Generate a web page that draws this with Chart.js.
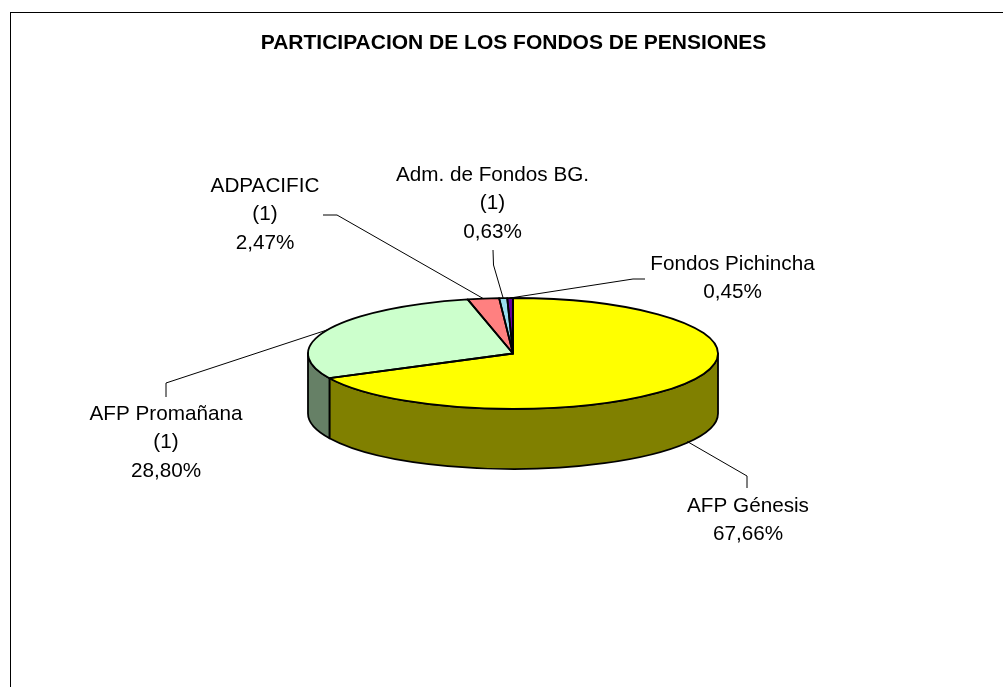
<!DOCTYPE html>
<html>
<head>
<meta charset="utf-8">
<script src="https://cdn.jsdelivr.net/npm/chart.js@4/dist/chart.umd.min.js"></script>
<style>
  html, body { margin: 0; padding: 0; background: #ffffff; }
  #wrap { width: 1003px; height: 687px; position: relative; }
</style>
</head>
<body>
<div id="wrap"><canvas id="c" width="1003" height="687"></canvas></div>
<script>
// ---- data ----
const chartTitle = 'PARTICIPACION DE LOS FONDOS DE PENSIONES';
const categories = ['AFP Génesis', 'AFP Promañana', 'ADPACIFIC', 'Adm. de Fondos BG.', 'Fondos Pichincha'];
const shares = [67.66, 28.80, 2.47, 0.63, 0.45];
const notes = ['', '(1)', '(1)', '(1)', ''];
const topColors = ['#FFFF00', '#CCFFCC', '#FF8080', '#99DDEE', '#660099'];
const sideColors = ['#808000', '#668066', '#804040', '#4C6E77', '#33004C'];

// ---- layout (label placement, not data) ----
const labelLayout = [
  { cx: 748, y0: 506, leader: [[747, 488], [747, 476]] },
  { cx: 166, y0: 414, leader: [[166, 397], [166, 383]] },
  { cx: 265, y0: 186, leader: [[323, 215], [337, 215]] },
  { cx: 492.5, y0: 175, leader: [[493, 250], [493.5, 265]] },
  { cx: 732.5, y0: 264, leader: [[645, 279], [633, 279]] }
];
const TILT = 0.2707;   // vertical squash of the pie
const DEPTH = 60;      // thickness of the pie
const LINE_H = 28.5;

function fmtPct(v) { return v.toFixed(2).replace('.', ',') + '%'; }

function geom(chart) {
  const meta = chart.getDatasetMeta(0);
  const arcs = meta.data;
  const a0 = arcs[0];
  const cx = a0.x, cy = a0.y, rx = a0.outerRadius, ry = rx * TILT;
  return { arcs, cx, cy, rx, ry };
}

const pie3d = {
  id: 'pie3d',
  beforeDatasetsDraw(chart) {
    const ctx = chart.ctx;
    const { arcs, cx, cy, rx, ry } = geom(chart);
    // side walls (front half: canvas angles 0..PI)
    ctx.save();
    ctx.lineWidth = 1.8;
    ctx.strokeStyle = '#000';
    ctx.lineJoin = 'round';
    arcs.forEach((el, i) => {
      const s = el.startAngle, e = el.endAngle;
      const lo = Math.max(s, 0), hi = Math.min(e, Math.PI);
      if (hi <= lo) return;
      ctx.beginPath();
      ctx.ellipse(cx, cy, rx, ry, 0, lo, hi, false);
      ctx.lineTo(cx + rx * Math.cos(hi), cy + DEPTH + ry * Math.sin(hi));
      ctx.ellipse(cx, cy + DEPTH, rx, ry, 0, hi, lo, true);
      ctx.closePath();
      ctx.fillStyle = sideColors[i];
      ctx.fill();
      ctx.stroke();
    });
    ctx.restore();
    // squash the library's own arcs into an ellipse
    ctx.save();
    ctx.translate(0, cy);
    ctx.scale(1, TILT);
    ctx.translate(0, -cy);
  },
  afterDatasetsDraw(chart) {
    const ctx = chart.ctx;
    ctx.restore();
    const { arcs, cx, cy, rx, ry } = geom(chart);
    ctx.save();
    ctx.lineWidth = 1.8;
    ctx.strokeStyle = '#000';
    ctx.lineJoin = 'round';
    arcs.forEach((el) => {
      ctx.beginPath();
      ctx.moveTo(cx, cy);
      ctx.ellipse(cx, cy, rx, ry, 0, el.startAngle, el.endAngle, false);
      ctx.closePath();
      ctx.stroke();
    });
    ctx.restore();
  },
  afterDraw(chart) {
    const ctx = chart.ctx;
    const { arcs, cx, cy, rx, ry } = geom(chart);
    ctx.save();
    // frame
    ctx.strokeStyle = '#000';
    ctx.lineWidth = 1;
    ctx.strokeRect(10.5, 12.5, 1010, 700);
    // title
    ctx.fillStyle = '#000';
    ctx.textAlign = 'center';
    ctx.textBaseline = 'middle';
    ctx.font = 'bold 21px "Liberation Sans", Arial, sans-serif';
    ctx.fillText(chartTitle, 513.5, 43.5);
    // labels and leader lines
    ctx.font = '20.7px "Liberation Sans", Arial, sans-serif';
    arcs.forEach((el, i) => {
      const lay = labelLayout[i];
      const mid = (el.startAngle + el.endAngle) / 2;
      const ax = cx + rx * Math.cos(mid);
      let ay = cy + ry * Math.sin(mid);
      if (Math.sin(mid) > 0) ay += DEPTH * 0.98;
      ctx.beginPath();
      ctx.lineWidth = 1;
      ctx.strokeStyle = '#000';
      ctx.moveTo(lay.leader[0][0], lay.leader[0][1]);
      ctx.lineTo(lay.leader[1][0], lay.leader[1][1]);
      ctx.lineTo(ax, ay);
      ctx.stroke();
      const lines = [categories[i]];
      if (notes[i]) lines.push(notes[i]);
      lines.push(fmtPct(shares[i]));
      lines.forEach((t, k) => ctx.fillText(t, lay.cx, lay.y0 + k * LINE_H));
    });
    ctx.restore();
  }
};

new Chart(document.getElementById('c'), {
  type: 'pie',
  data: {
    labels: categories,
    datasets: [{
      data: shares,
      backgroundColor: topColors,
      borderWidth: 0
    }]
  },
  options: {
    responsive: false,
    animation: false,
    events: [],
    rotation: 0,
    layout: { padding: { left: 308, right: 285, top: 148.5, bottom: 128.5 } },
    plugins: {
      legend: { display: false },
      title: { display: false },
      tooltip: { enabled: false }
    }
  },
  plugins: [pie3d]
});
</script>
</body>
</html>
